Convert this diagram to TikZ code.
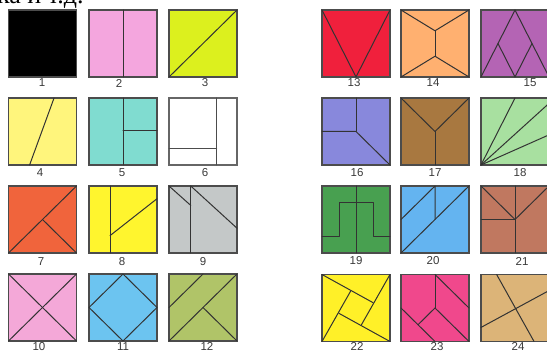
\documentclass[tikz,border=0pt]{standalone}
\usepackage{fontspec}
\setmainfont{Liberation Serif}
\newfontfamily\numfont{Liberation Sans}

% Colores de las piezas
\definecolor{c2}{HTML}{F4A6DE}
\definecolor{c3}{HTML}{DCF01E}
\definecolor{c4}{HTML}{FFF57C}
\definecolor{c5}{HTML}{80DCD0}
\definecolor{c7}{HTML}{F0643C}
\definecolor{c8}{HTML}{FFF52E}
\definecolor{c9}{HTML}{C4C8C8}
\definecolor{c10}{HTML}{F4A8D8}
\definecolor{c11}{HTML}{6CC4F0}
\definecolor{c12}{HTML}{B0C468}
\definecolor{c13}{HTML}{F0203C}
\definecolor{c14}{HTML}{FFB070}
\definecolor{c15}{HTML}{B464B4}
\definecolor{c16}{HTML}{8888DC}
\definecolor{c17}{HTML}{A87840}
\definecolor{c18}{HTML}{A8E0A0}
\definecolor{c19}{HTML}{48A050}
\definecolor{c20}{HTML}{64B4F0}
\definecolor{c21}{HTML}{C07860}
\definecolor{c22}{HTML}{FFF028}
\definecolor{c23}{HTML}{F0488C}
\definecolor{c24}{HTML}{DCB478}

\begin{document}
\begin{tikzpicture}[x=1pt, y=-1pt]
    % Estilo para los cuadrados
    \tikzstyle{cuadro} = [rectangle, draw=gray!60!black, line width=1.2pt, minimum width=68pt, minimum height=67pt, inner sep=0pt, outer sep=0pt]

    % Estilo para los cortes
    \tikzstyle{corte} = [line width=1pt, draw=black!80, line cap=round, line join=round]

    % Estilo para los numeros
    \tikzstyle{numero} = [font=\numfont\fontsize{11.5}{11.5}\selectfont, text=gray!45!black, inner sep=0pt]

    \clip (0,0) rectangle (547,352);

    % Texto cortado arriba
    \node[anchor=base west, inner sep=0pt, font=\fontsize{26}{26}\selectfont] (texto) at (-3,3.5) {ка и т.д.};

    % Cuadrados, grupo izquierdo
    \node[cuadro, fill=black] (S1) at (42.5,43.5) {};
    \node[cuadro, fill=c2] (S2) at (123,43.5) {};
    \node[cuadro, fill=c3] (S3) at (203,43.5) {};
    \node[cuadro, fill=c4] (S4) at (42.5,131.5) {};
    \node[cuadro, fill=c5] (S5) at (123,131.5) {};
    \node[cuadro, fill=white, draw=gray!80!black] (S6) at (203,131.5) {};
    \node[cuadro, fill=c7] (S7) at (42.5,219.5) {};
    \node[cuadro, fill=c8] (S8) at (123,219.5) {};
    \node[cuadro, fill=c9] (S9) at (203,219.5) {};
    \node[cuadro, fill=c10] (S10) at (42.5,307.5) {};
    \node[cuadro, fill=c11] (S11) at (123,307.5) {};
    \node[cuadro, fill=c12] (S12) at (203,307.5) {};

    % Cuadrados, grupo derecho
    \node[cuadro, fill=c13] (S13) at (356,43.5) {};
    \node[cuadro, fill=c14] (S14) at (435,43.5) {};
    \node[cuadro, fill=c15] (S15) at (515,43.5) {};
    \node[cuadro, fill=c16] (S16) at (356,131.5) {};
    \node[cuadro, fill=c17] (S17) at (435,131.5) {};
    \node[cuadro, fill=c18] (S18) at (515,131.5) {};
    \node[cuadro, fill=c19] (S19) at (356,219.5) {};
    \node[cuadro, fill=c20] (S20) at (435,219.5) {};
    \node[cuadro, fill=c21] (S21) at (515,219.5) {};
    \node[cuadro, fill=c22] (S22) at (356,308) {};
    \node[cuadro, fill=c23] (S23) at (435,308) {};
    \node[cuadro, fill=c24] (S24) at (515,308) {};

    % Numeros debajo de cada cuadrado
    \node[numero] (L1) at (42,83) {1};
    \node[numero] (L2) at (119,83) {2};
    \node[numero] (L3) at (205,83) {3};
    \node[numero] (L4) at (40,172.5) {4};
    \node[numero] (L5) at (122,172.5) {5};
    \node[numero] (L6) at (205,172.5) {6};
    \node[numero] (L7) at (41,262) {7};
    \node[numero] (L8) at (122,262) {8};
    \node[numero] (L9) at (203,262) {9};
    \node[numero] (L10) at (39,346.5) {10};
    \node[numero] (L11) at (123,346.5) {11};
    \node[numero] (L12) at (207,346.5) {12};
    \node[numero] (L13) at (354,83) {13};
    \node[numero] (L14) at (433,83) {14};
    \node[numero] (L15) at (530,83) {15};
    \node[numero] (L16) at (357,173) {16};
    \node[numero] (L17) at (435,173) {17};
    \node[numero] (L18) at (520,173) {18};
    \node[numero] (L19) at (356,261) {19};
    \node[numero] (L20) at (433,261) {20};
    \node[numero] (L21) at (522,261) {21};
    \node[numero] (L22) at (357,346.5) {22};
    \node[numero] (L23) at (437,346.5) {23};
    \node[numero] (L24) at (518,346.5) {24};

    % Cortes de cada pieza (coordenadas dentro del cuadrado)
    \begin{scope}[shift={(S2.north west)}, x=68pt, y=-67pt]
        \draw[corte] (0.5,0) -- (0.5,1);
    \end{scope}
    \begin{scope}[shift={(S3.north west)}, x=68pt, y=-67pt]
        \draw[corte] (0,1) -- (1,0);
    \end{scope}
    \begin{scope}[shift={(S4.north west)}, x=68pt, y=-67pt]
        \draw[corte] (0.31,1) -- (0.67,0);
    \end{scope}
    \begin{scope}[shift={(S5.north west)}, x=68pt, y=-67pt]
        \draw[corte] (0.5,0) -- (0.5,1);
        \draw[corte] (0.5,0.49) -- (1,0.49);
    \end{scope}
    \begin{scope}[shift={(S6.north west)}, x=68pt, y=-67pt]
        \draw[corte, draw=black!70] (0.7,0) -- (0.7,1);
        \draw[corte, draw=black!70] (0,0.75) -- (0.7,0.75);
    \end{scope}
    \begin{scope}[shift={(S7.north west)}, x=68pt, y=-67pt]
        \draw[corte] (0,1) -- (1,0);
        \draw[corte] (0.5,0.5) -- (1,1);
    \end{scope}
    \begin{scope}[shift={(S8.north west)}, x=68pt, y=-67pt]
        \draw[corte] (0.31,0) -- (0.31,1);
        \draw[corte] (0.31,0.74) -- (1,0.19);
    \end{scope}
    \begin{scope}[shift={(S9.north west)}, x=68pt, y=-67pt]
        \draw[corte] (0.32,0) -- (0.32,1);
        \draw[corte] (0,0) -- (0.32,0.29);
        \draw[corte] (0.32,0) -- (1,0.63);
    \end{scope}
    \begin{scope}[shift={(S10.north west)}, x=68pt, y=-67pt]
        \draw[corte] (0,0) -- (1,1);
        \draw[corte] (0,1) -- (1,0);
    \end{scope}
    \begin{scope}[shift={(S11.north west)}, x=68pt, y=-67pt]
        \draw[corte] (0.5,0) -- (1,0.5) -- (0.5,1) -- (0,0.5) -- cycle;
    \end{scope}
    \begin{scope}[shift={(S12.north west)}, x=68pt, y=-67pt]
        \draw[corte] (0,1) -- (1,0);
        \draw[corte] (0,0.5) -- (0.5,0);
        \draw[corte] (0.5,0.5) -- (1,1);
    \end{scope}
    \begin{scope}[shift={(S13.north west)}, x=68pt, y=-67pt]
        \draw[corte] (0,0) -- (0.5,1) -- (1,0);
    \end{scope}
    \begin{scope}[shift={(S14.north west)}, x=68pt, y=-67pt]
        \draw[corte] (0,0) -- (0.5,0.31) -- (1,0);
        \draw[corte] (0.5,0.31) -- (0.5,0.69);
        \draw[corte] (0,1) -- (0.5,0.69) -- (1,1);
    \end{scope}
    \begin{scope}[shift={(S15.north west)}, x=68pt, y=-67pt]
        \draw[corte] (0,1) -- (0.5,0) -- (1,1);
        \draw[corte] (0.25,0.5) -- (0.5,1) -- (0.75,0.5);
    \end{scope}
    \begin{scope}[shift={(S16.north west)}, x=68pt, y=-67pt]
        \draw[corte] (0.5,0) -- (0.5,0.5);
        \draw[corte] (0,0.5) -- (0.5,0.5) -- (1,1);
    \end{scope}
    \begin{scope}[shift={(S17.north west)}, x=68pt, y=-67pt]
        \draw[corte] (0,0) -- (0.5,0.5) -- (1,0);
        \draw[corte] (0.5,0.5) -- (0.5,1);
    \end{scope}
    \begin{scope}[shift={(S18.north west)}, x=68pt, y=-67pt]
        \draw[corte] (0,1) -- (0.5,0);
        \draw[corte] (0,1) -- (1,0.08);
        \draw[corte] (0,1) -- (1,0.55);
    \end{scope}
    \begin{scope}[shift={(S19.north west)}, x=68pt, y=-67pt]
        \draw[corte] (0.5,0) -- (0.5,1);
        \draw[corte] (0,0.75) -- (0.25,0.75) -- (0.25,0.25) -- (0.75,0.25) -- (0.75,0.75) -- (1,0.75);
    \end{scope}
    \begin{scope}[shift={(S20.north west)}, x=68pt, y=-67pt]
        \draw[corte] (0,1) -- (1,0);
        \draw[corte] (0,0.5) -- (0.5,0) -- (0.5,0.5);
    \end{scope}
    \begin{scope}[shift={(S21.north west)}, x=68pt, y=-67pt]
        \draw[corte] (0.5,0) -- (0.5,1);
        \draw[corte] (0,0.5) -- (0.5,0.5);
        \draw[corte] (0,0) -- (0.5,0.5) -- (1,0);
    \end{scope}
    \begin{scope}[shift={(S22.north west)}, x=68pt, y=-67pt]
        \draw[corte] (0,0) -- (0.75,0.42);
        \draw[corte] (1,0) -- (0.58,0.75);
        \draw[corte] (1,1) -- (0.25,0.58);
        \draw[corte] (0,1) -- (0.42,0.25);
    \end{scope}
    \begin{scope}[shift={(S23.north west)}, x=68pt, y=-67pt]
        \draw[corte] (0.5,0) -- (0.5,0.5);
        \draw[corte] (0.5,0) -- (1,0.5);
        \draw[corte] (0.5,0.5) -- (1,1);
        \draw[corte] (0,0.5) -- (0.5,1);
        \draw[corte] (0.5,0.5) -- (0.25,0.75);
    \end{scope}
    \begin{scope}[shift={(S24.north west)}, x=68pt, y=-67pt]
        \draw[corte] (0.23,0) -- (0.78,1);
        \draw[corte] (0,0.79) -- (1,0.24);
    \end{scope}

\end{tikzpicture}
\end{document}
